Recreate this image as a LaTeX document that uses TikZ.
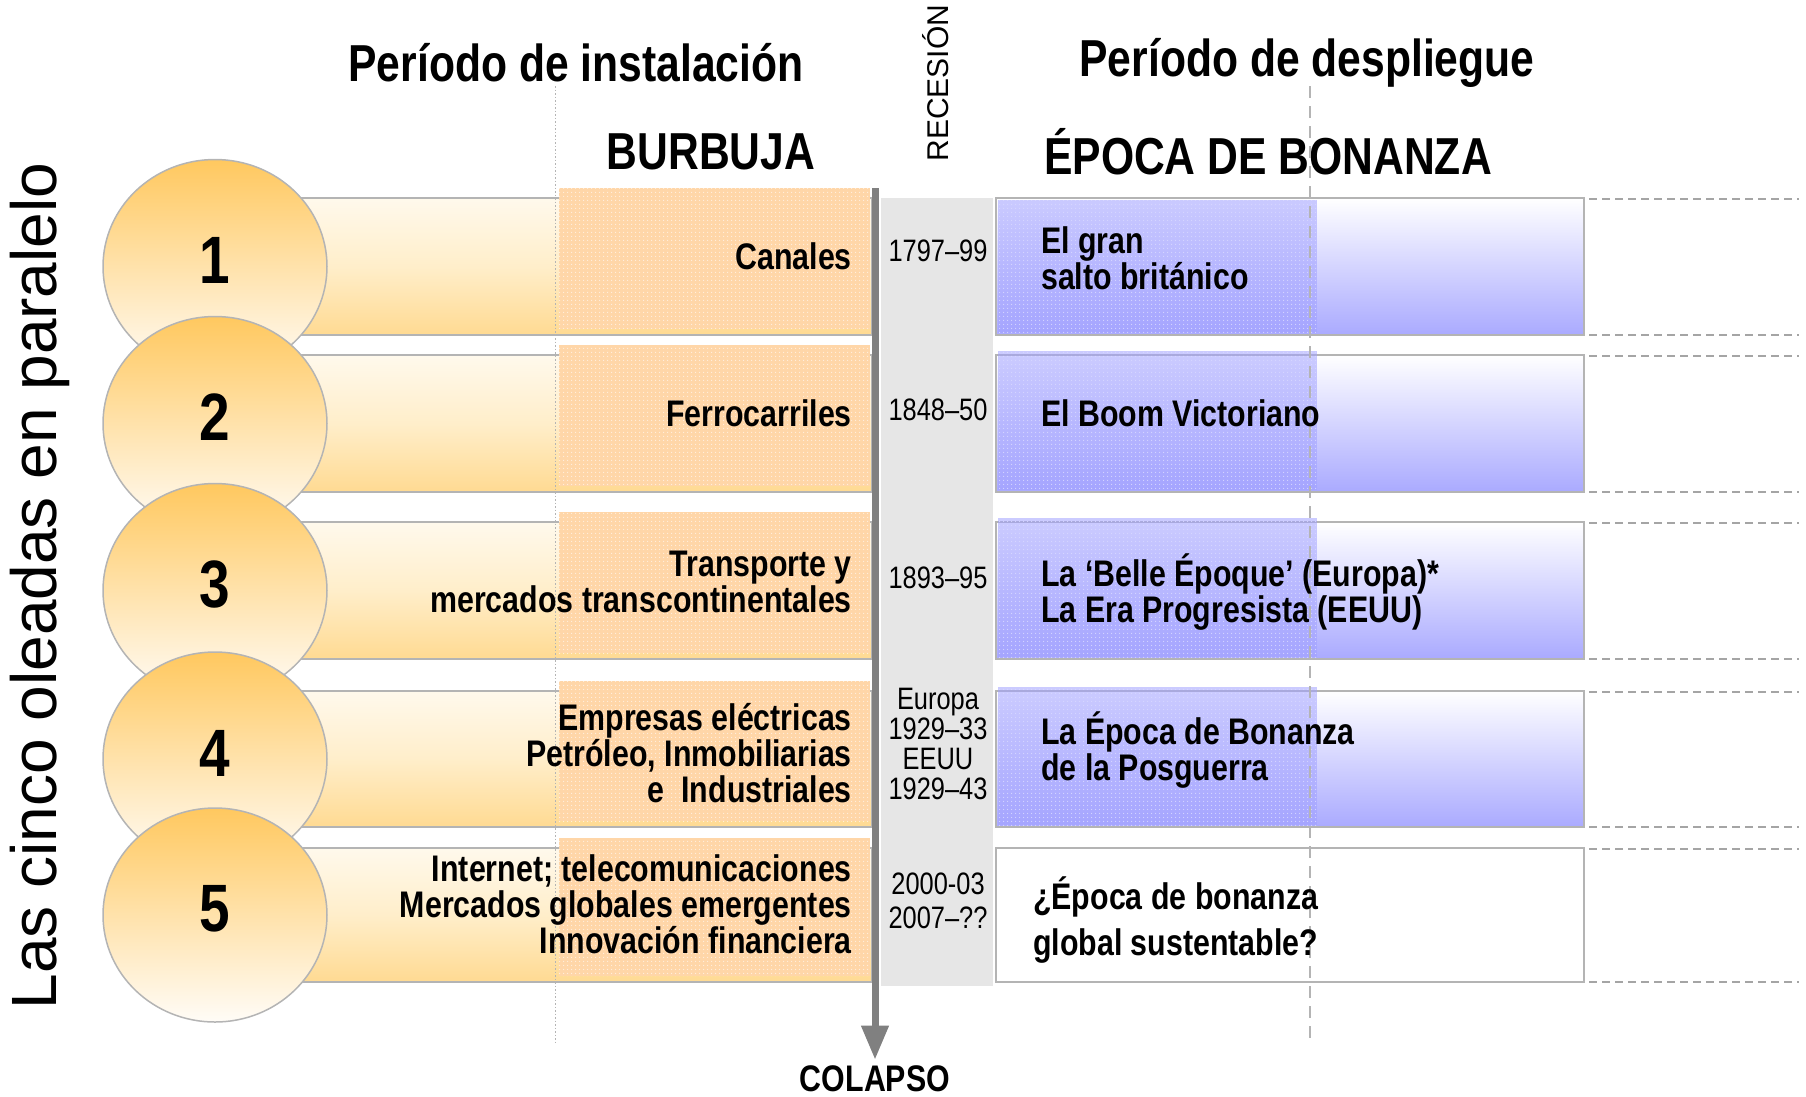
\documentclass[tikz,border=0pt]{standalone}
\usepackage{fontspec}
\setmainfont{Liberation Sans}
\newfontfamily\narrowfont{Liberation Sans}[FakeStretch=0.82]
\usetikzlibrary{arrows.meta,shapes.geometric,patterns.meta}
\definecolor{barTop}{RGB}{255,249,236}
\definecolor{barMid}{RGB}{255,238,202}
\definecolor{barBot}{RGB}{255,218,146}
\definecolor{ballTop}{RGB}{255,200,95}
\definecolor{ballBot}{RGB}{255,252,247}
\definecolor{bubbleFill}{RGB}{255,214,168}
\definecolor{bubbleDot}{RGB}{255,240,225}
\definecolor{boomBot}{RGB}{170,170,255}
\definecolor{boomShade}{RGB}{160,160,255}
\definecolor{boomDot}{RGB}{215,215,255}
\definecolor{lineGray}{RGB}{180,180,180}
\definecolor{dashGray}{RGB}{165,165,165}
\definecolor{recessGray}{RGB}{230,230,230}
\definecolor{arrowGray}{RGB}{128,128,128}
\tikzdeclarepattern{
	name=finedots,
	type=uncolored,
	bottom left={(-2pt,-2pt)},
	top right={(2pt,2pt)},
	tile size={(4pt,4pt)},
	code={\fill (0pt,0pt) circle (0.75pt);}
}
\begin{document}
\begin{tikzpicture}%
	[x=1pt, y=-1pt,
	bar/.style={top color=barTop, bottom color=barBot, middle color=barMid, draw=lineGray, line width=2pt},
	bubblebox/.style={fill=bubbleFill},
	bubbledots/.style={pattern=finedots, pattern color=bubbleDot},
	boombox/.style={top color=white, bottom color=boomBot, draw=lineGray, line width=2pt},
	emptybox/.style={fill=white, draw=lineGray, line width=2pt},
	boomshade/.style={fill=boomShade, fill opacity=0.55},
	boomdots/.style={pattern=finedots, pattern color=boomDot},
	recess/.style={fill=recessGray},
	guide/.style={draw=dashGray, line width=1.5pt, dash pattern=on 8pt off 5pt},
	phaseline/.style={draw=lineGray, line width=1.2pt, dash pattern=on 12pt off 8pt},
	dotline/.style={draw=lineGray, line width=0.8pt, dash pattern=on 1.5pt off 2pt},
	collapse/.style={draw=arrowGray, line width=7pt, -{Triangle[width=26pt,length=34pt]}, shorten >=6pt},
	wavenum/.style={ellipse, draw=lineGray, line width=1.5pt, top color=ballTop, bottom color=ballBot,
		minimum width=224pt, minimum height=214pt, inner sep=0pt,
		font=\narrowfont\bfseries\fontsize{67}{67}\selectfont},
	numtext/.style={inner sep=0pt, font=\narrowfont\bfseries\fontsize{67}{67}\selectfont},
	headtitle/.style={inner sep=0pt, font=\narrowfont\bfseries\fontsize{52}{56}\selectfont},
	bubblelabel/.style={anchor=east, align=right, inner sep=0pt, font=\narrowfont\bfseries\fontsize{37}{36}\selectfont},
	boomlabel/.style={anchor=west, align=left, inner sep=0pt, font=\narrowfont\bfseries\fontsize{37}{36}\selectfont},
	yearlabel/.style={align=center, inner sep=0pt, font=\narrowfont\fontsize{31}{30}\selectfont}]
%
\useasboundingbox (0,0) rectangle (1806,1096);
%%
%% Headings
%%
\node[rotate=90, inner sep=0pt, font=\fontsize{64}{64}\selectfont] (waves) at (40,586) {Las cinco oleadas en paralelo};
\node[headtitle] (install) at (576,63) {Período de instalación};
\node[headtitle] (bubble) at (711,152) {BURBUJA};
\node[rotate=90, inner sep=0pt, font=\fontsize{30}{30}\selectfont] (recession) at (936,83) {RECESIÓN};
\node[headtitle] (deploy) at (1307,63) {Período de despliegue};
\node[headtitle] (golden) at (1268,152) {ÉPOCA DE BONANZA};
%%
%% Recession column
%%
\fill[recess] (881,198) rectangle (993,986);
%%
%% Drawing the bars
%%
\shadedraw[bar] (215,198) rectangle (872,335);
\shadedraw[bar] (215,355) rectangle (872,492);
\shadedraw[bar] (215,522) rectangle (872,659);
\shadedraw[bar] (215,691) rectangle (872,827);
\shadedraw[bar] (215,848) rectangle (872,982);
\fill[bubblebox] (559,188) rectangle (870,329);
\fill[bubblebox] (559,345) rectangle (870,486);
\fill[bubblebox] (559,512) rectangle (870,653);
\fill[bubblebox] (559,681) rectangle (870,821);
\fill[bubblebox] (559,838) rectangle (870,976);
\fill[bubbledots] (559,188) rectangle (870,329);
\fill[bubbledots] (559,345) rectangle (870,486);
\fill[bubbledots] (559,512) rectangle (870,653);
\fill[bubbledots] (559,681) rectangle (870,821);
\fill[bubbledots] (559,838) rectangle (870,976);
%%
%% Drawing the wave numbers
%%
\node[wavenum] (w1) at (215,266.5) {};
\node[wavenum] (w2) at (215,423.5) {};
\node[wavenum] (w3) at (215,590.5) {};
\node[wavenum] (w4) at (215,759) {};
\node[wavenum] (w5) at (215,915) {};
\node[numtext] (n1) at (215,260) {1};
\node[numtext] (n2) at (215,417) {2};
\node[numtext] (n3) at (215,584) {3};
\node[numtext] (n4) at (215,753) {4};
\node[numtext] (n5) at (215,909) {5};
%%
%% Drawing the golden age boxes
%%
\shadedraw[boombox] (996,198) rectangle (1584,335);
\shadedraw[boombox] (996,355) rectangle (1584,492);
\shadedraw[boombox] (996,522) rectangle (1584,659);
\shadedraw[boombox] (996,691) rectangle (1584,827);
\filldraw[emptybox] (996,848) rectangle (1584,982);
\fill[boomshade] (998,200) rectangle (1317,333);
\fill[boomshade] (998,351) rectangle (1317,490);
\fill[boomshade] (998,518) rectangle (1317,657);
\fill[boomshade] (998,687) rectangle (1317,825);
\fill[boomdots] (998,200) rectangle (1317,333);
\fill[boomdots] (998,351) rectangle (1317,490);
\fill[boomdots] (998,518) rectangle (1317,657);
\fill[boomdots] (998,687) rectangle (1317,825);
%%
%% Guides
%%
\draw[dotline] (555,86) -- (555,1042);
\draw[phaseline] (1310,86) -- (1310,1042);
\draw[guide] (1589,199) -- (1799,199);
\draw[guide] (1589,335) -- (1799,335);
\draw[guide] (1589,356) -- (1799,356);
\draw[guide] (1589,492) -- (1799,492);
\draw[guide] (1589,523) -- (1799,523);
\draw[guide] (1589,659) -- (1799,659);
\draw[guide] (1589,692) -- (1799,692);
\draw[guide] (1589,827) -- (1799,827);
\draw[guide] (1589,849) -- (1799,849);
\draw[guide] (1589,982) -- (1799,982);
%%
%% Collapse arrow
%%
\coordinate (arrtop) at (875,188);
\node[inner sep=0pt, font=\narrowfont\bfseries\fontsize{37}{37}\selectfont] (colapso) at (875,1079) {COLAPSO};
\draw[collapse] (arrtop) -- (colapso.north);
%%
%% Labels
%%
\node[bubblelabel] (canals) at (852,256) {Canales};
\node[bubblelabel] (rails) at (852,413) {Ferrocarriles};
\node[bubblelabel] (transport) at (852,582) {Transporte y\\mercados transcontinentales};
\node[bubblelabel] (electric) at (852,753) {Empresas eléctricas\\Petróleo, Inmobiliarias\\e\ \ Industriales};
\node[bubblelabel] (internet) at (852,904) {Internet; telecomunicaciones\\Mercados globales emergentes\\Innovación financiera};
\node[yearlabel] (y1) at (938,251) {1797–99};
\node[yearlabel] (y2) at (938,410) {1848–50};
\node[yearlabel] (y3) at (938,578) {1893–95};
\node[yearlabel] (y4) at (938,744) {Europa\\1929–33\\EEUU\\1929–43};
\node[yearlabel, font=\narrowfont\fontsize{31}{34}\selectfont] (y5) at (938,901) {2000-03\\2007–??};
\node[boomlabel] (leap) at (1041,258) {El gran\\salto británico};
\node[boomlabel] (victorian) at (1041,413) {El Boom Victoriano};
\node[boomlabel] (belle) at (1041,592) {La ‘Belle Époque’ (Europa)*\\La Era Progresista (EEUU)};
\node[boomlabel] (postwar) at (1041,750) {La Época de Bonanza\\de la Posguerra};
\node[boomlabel, font=\narrowfont\bfseries\fontsize{37}{46}\selectfont] (global) at (1033,920) {¿Época de bonanza\\global sustentable?};
\end{tikzpicture}
\end{document}
